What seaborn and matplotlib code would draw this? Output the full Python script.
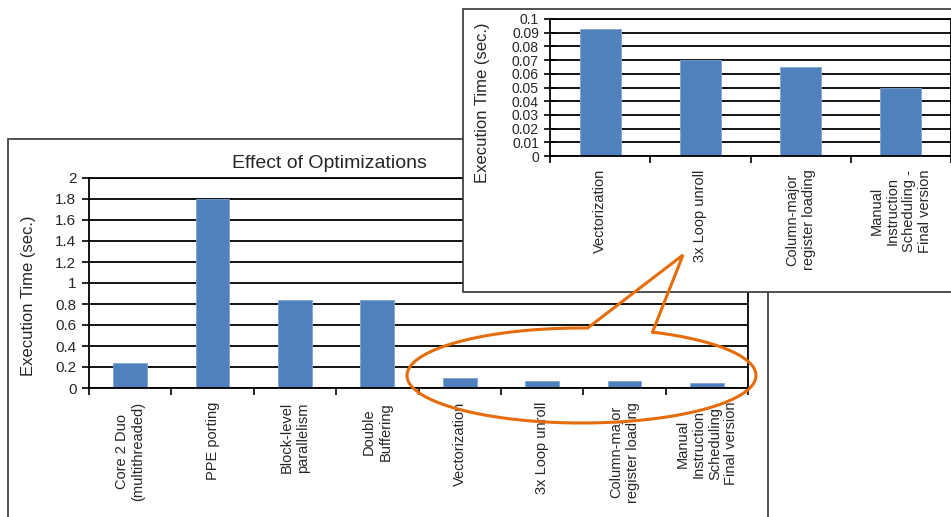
import numpy as np
import pandas as pd
import matplotlib
matplotlib.use("Agg")
import matplotlib.pyplot as plt
import matplotlib.patches as mpatches
from matplotlib.ticker import FuncFormatter
import seaborn as sns

# data
steps = ["Core 2 Duo\n(multithreaded)", "PPE porting", "Block-level\nparallelism",
         "Double\nBuffering", "Vectorization", "3x Loop unroll",
         "Column-major\nregister loading",
         "Manual\nInstruction\nScheduling\nFinal version"]
times = [0.235, 1.80, 0.84, 0.84, 0.093, 0.070, 0.065, 0.050]

zoom_steps = ["Vectorization", "3x Loop unroll", "Column-major\nregister loading",
              "Manual\nInstruction\nScheduling -\nFinal version"]
zoom_times = [0.093, 0.070, 0.065, 0.050]

main_yticks = [0, 0.2, 0.4, 0.6, 0.8, 1.0, 1.2, 1.4, 1.6, 1.8, 2.0]
zoom_yticks = [0, 0.01, 0.02, 0.03, 0.04, 0.05, 0.06, 0.07, 0.08, 0.09, 0.1]

title = "Effect of Optimizations"
ylabel = "Execution Time (sec.)"

BLUE = "#4F81BD"
ORANGE = "#E46C0A"
W, H = 951, 517

sns.set_theme(style="white")
plt.rcParams["font.family"] = ["Liberation Sans", "DejaVu Sans"]


def box(l, t, r, b):
    # pixel box -> figure fraction rect
    return [l / W, 1 - b / H, (r - l) / W, (b - t) / H]


def bar_panel(ax, cats, vals, yticks, ytick_size, ydir, xpad):
    df = pd.DataFrame({"step": cats, "time": vals})
    sns.barplot(data=df, x="step", y="time", ax=ax, color=BLUE,
                saturation=1, width=0.41, edgecolor="#7FA3D1", linewidth=0.6)
    n = len(cats)
    ax.set_xlim(-0.5, n - 0.5)
    ax.set_ylim(yticks[0], yticks[-1])
    ax.set_yticks(yticks)
    ax.yaxis.set_major_formatter(FuncFormatter(lambda v, p: "%g" % round(v, 3)))
    ax.set_xticks(np.arange(n + 1) - 0.5)
    ax.set_xticklabels([])
    ax.set_xticks(np.arange(n), minor=True)
    ax.set_xticklabels(cats, minor=True, rotation=90, fontsize=10.5)
    ax.tick_params(axis="x", which="major", direction="out", length=5, width=1.2,
                   color="black", bottom=True)
    ax.tick_params(axis="x", which="minor", length=0, pad=xpad)
    if ydir == "inout":
        ax.tick_params(axis="y", direction="inout", length=8, width=1.2,
                       color="black", left=True, labelsize=ytick_size, pad=4)
    else:
        ax.tick_params(axis="y", direction="out", length=5, width=1.2,
                       color="black", left=True, labelsize=ytick_size, pad=4)
    ax.yaxis.grid(True, color="black", linewidth=1.3)
    ax.xaxis.grid(False)
    ax.set_axisbelow(True)
    for s in ax.spines.values():
        s.set_color("black")
        s.set_linewidth(1.3)
    ax.set_xlabel("")
    ax.set_ylabel(ylabel, fontsize=12)


fig = plt.figure(figsize=(W / 100, H / 100), dpi=100)

# outer frame of the main chart
fig.add_artist(mpatches.Rectangle((8 / W, -0.1), (768 - 8) / W, (517 - 139) / H + 0.1,
                                  transform=fig.transFigure, fill=False,
                                  edgecolor="#333333", linewidth=1.2, zorder=0))

ax = fig.add_axes(box(89, 178, 748, 388), zorder=1)
bar_panel(ax, steps, times, main_yticks, 11, "out", 10)
ax.yaxis.set_label_coords(-0.080, 0.438)
ax.set_title(title, fontsize=14, x=(329 - 89) / 659, pad=7)

# frame of the zoomed-in chart
fig.add_artist(mpatches.Rectangle((463 / W, 1 - 292 / H), (970 - 463) / W, (292 - 9) / H,
                                  transform=fig.transFigure, facecolor="white",
                                  edgecolor="#333333", linewidth=1.2, zorder=2))

ax2 = fig.add_axes(box(550, 19, 951, 156), zorder=3)
bar_panel(ax2, zoom_steps, zoom_times, zoom_yticks, 10, "inout", 9.5)
ax2.yaxis.set_label_coords(-0.150, 0.387)

# orange callout: ellipse around the small bars with a pointer to the inset
ov = fig.add_axes([0, 0, 1, 1], zorder=10)
ov.set_xlim(0, W)
ov.set_ylim(H, 0)
ov.axis("off")
ov.patch.set_alpha(0)
cx, cy, rx, ry = 581.5, 375.5, 174.5, 47.5
t = np.radians(np.linspace(294, 632, 300))
px = list(cx + rx * np.cos(t)) + [683, cx + rx * np.cos(t[0])]
py = list(cy + ry * np.sin(t)) + [255, cy + ry * np.sin(t[0])]
ov.plot(px, py, color=ORANGE, linewidth=2.2, solid_joinstyle="miter")

fig.savefig("out.png", dpi=100)
